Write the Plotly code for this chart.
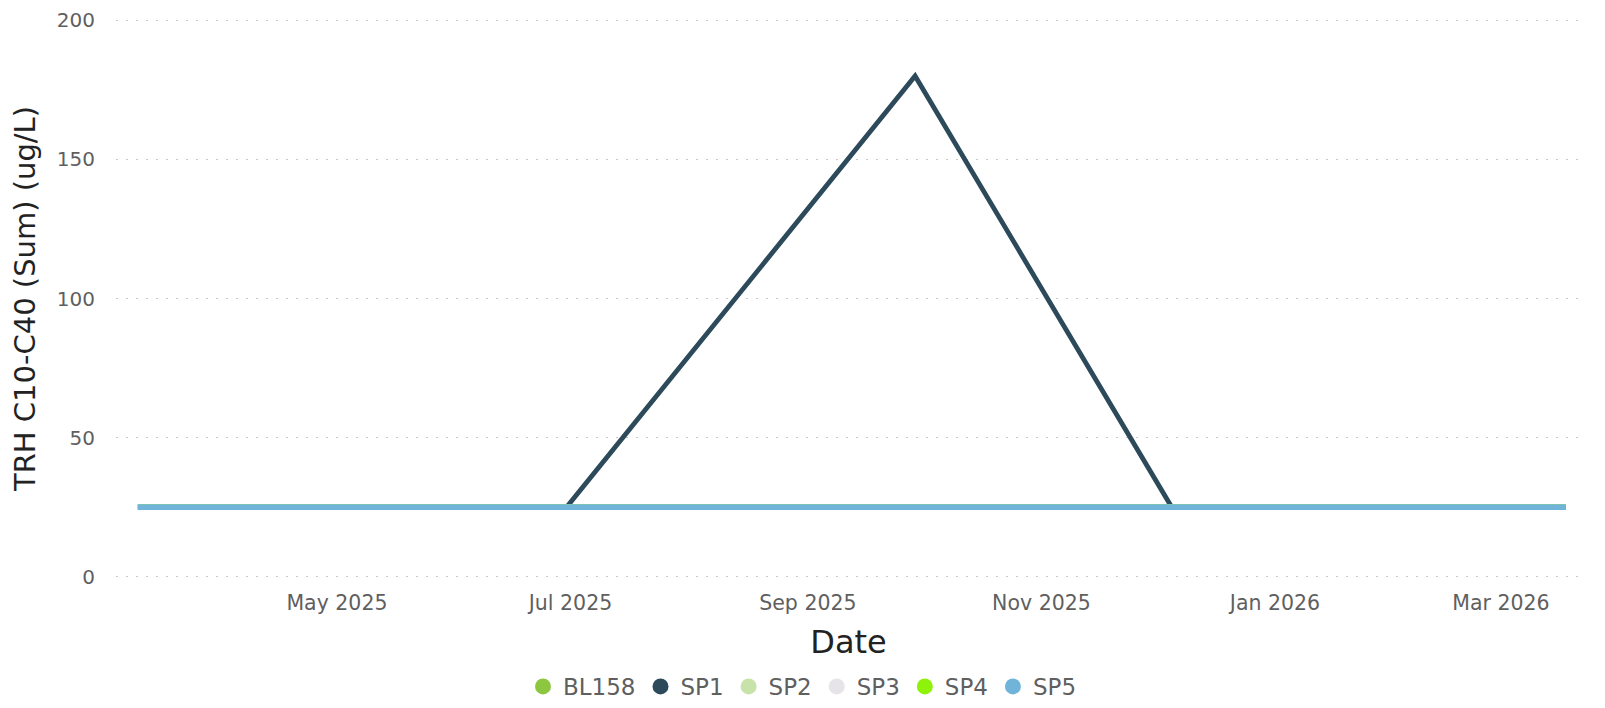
import plotly.graph_objects as go

# ---- data ----
dates = ["2025-03-10", "2025-06-30", "2025-09-29", "2025-12-05", "2026-03-18"]
series_names = ["BL158", "SP1", "SP2", "SP3", "SP4", "SP5"]
bl158 = [25, 25, 25, 25, 25]
sp1 = [25, 25, 180, 25, 25]
sp2 = [25, 25, 25, 25, 25]
sp3 = [25, 25, 25, 25, 25]
sp4 = [25, 25, 25, 25, 25]
sp5 = [25, 25, 25, 25, 25]
series_values = [bl158, sp1, sp2, sp3, sp4, sp5]
colors = ["#8dc641", "#2d4a5b", "#c8e3aa", "#e6e4e8", "#8ef20a", "#70b4da"]
widths = [5.5, 4.8, 5.5, 5.5, 5.5, 5.8]

y_ticks = [0, 50, 100, 150, 200]
x_range = ["2025-03-04 07:00", "2026-03-21 22:00"]

FONT = "Tahoma, DejaVu Sans, Verdana, sans-serif"

fig = go.Figure()
for name, vals, col, w in zip(series_names, series_values, colors, widths):
    fig.add_trace(go.Scatter(x=dates, y=vals, mode="lines", name=name,
                             line=dict(color=col, width=w), showlegend=False,
                             hoverinfo="x+y+name"))
for name, col in zip(series_names, colors):
    fig.add_trace(go.Scatter(x=[None], y=[None], mode="markers", name=name,
                             marker=dict(color=col, size=16), showlegend=True))

# page body has an 8px margin: figure is sized to fit inside the window
fig.update_layout(
    width=1589, height=692,
    margin=dict(l=108, r=16, t=11, b=122, autoexpand=False),
    paper_bgcolor="white", plot_bgcolor="white",
    font=dict(family=FONT, color="#5f5f5f"),
    showlegend=True,
    legend=dict(orientation="h", x=0.5, xanchor="center", xref="container",
                y=-0.1940, yanchor="middle", yref="paper",
                font=dict(size=23, color="#5f5f5f"), itemsizing="trace",
                tracegroupgap=0),
    xaxis=dict(
        type="date", range=x_range, showgrid=False, zeroline=False, showline=False,
        tick0="2025-01-01", dtick="M2", tickformat="%b %Y",
        tickfont=dict(size=20.5, color="#5f5f5f"),
        ticks="outside", ticklen=6, tickcolor="rgba(0,0,0,0)",
        ticklabeloverflow="allow",
        title=dict(text="Date", font=dict(size=32, color="#222222"), standoff=17),
        automargin=False,
    ),
    yaxis=dict(
        range=[-0.5, 200.5], tickvals=y_ticks, showgrid=True, gridcolor="#c8c8c8",
        griddash="2px,8px", gridwidth=1, zeroline=False, showline=False,
        tickfont=dict(size=20, color="#5f5f5f"),
        ticks="outside", ticklen=16, tickcolor="rgba(0,0,0,0)",
        ticklabeloverflow="allow",
        title=dict(text="TRH C10-C40 (Sum) (ug/L)", font=dict(size=29, color="#222222"), standoff=14),
        automargin=False,
    ),
)

fig.write_html("out.html")
